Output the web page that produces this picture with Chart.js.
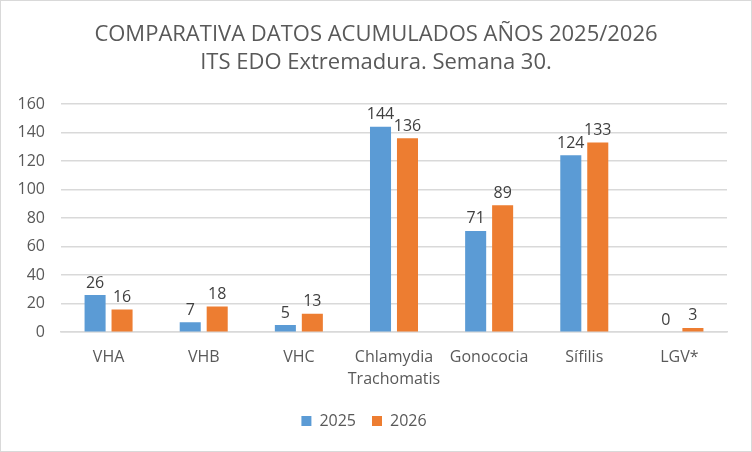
<!DOCTYPE html>
<html>
<head>
<meta charset="utf-8">
<script src="https://cdn.jsdelivr.net/npm/chart.js@4/dist/chart.umd.min.js"></script>
<style>
  html, body { margin: 0; padding: 0; background: #fff; }
  #wrap { width: 750px; height: 450px; border: 1px solid #d9d9d9; position: relative; }
</style>
</head>
<body>
<div id="wrap"><canvas id="chart"></canvas></div>
<script>
// Datos acumulados por enfermedad
const categorias = ['VHA', 'VHB', 'VHC', ['Chlamydia', 'Trachomatis'], 'Gonococia', 'Sífilis', 'LGV*'];
const valores2025 = [26, 7, 5, 144, 71, 124, 0];
const valores2026 = [16, 18, 13, 136, 89, 133, 3];
const ticksY = [0, 20, 40, 60, 80, 100, 120, 140, 160];
const titulo = ['COMPARATIVA DATOS ACUMULADOS AÑOS 2025/2026', 'ITS EDO Extremadura. Semana 30.'];

const colores = { a2025: '#5B9BD5', a2026: '#ED7D31' };
const fuente = '"Open Sans", "Noto Sans", sans-serif';

// Etiquetas de valor encima de cada barra
const etiquetasPlugin = {
  id: 'etiquetas',
  afterDatasetsDraw(chart) {
    const ctx = chart.ctx;
    ctx.save();
    ctx.fillStyle = '#404040';
    ctx.font = '16px ' + fuente;
    ctx.textAlign = 'center';
    ctx.textBaseline = 'bottom';
    chart.data.datasets.forEach((ds, i) => {
      chart.getDatasetMeta(i).data.forEach((bar, j) => {
        ctx.fillText(String(ds.data[j]), bar.x, bar.y - 4);
      });
    });
    ctx.restore();
  }
};

// Título centrado sobre todo el lienzo
const tituloPlugin = {
  id: 'titulo',
  afterDraw(chart) {
    const ctx = chart.ctx;
    ctx.save();
    ctx.fillStyle = '#595959';
    ctx.font = '22px ' + fuente;
    ctx.textAlign = 'center';
    ctx.textBaseline = 'middle';
    titulo.forEach((linea, i) => {
      ctx.fillText(linea, chart.width / 2, 34 + i * 28);
    });
    ctx.restore();
  }
};

new Chart(document.getElementById('chart'), {
  type: 'bar',
  data: {
    labels: categorias,
    datasets: [
      { label: '2025', data: valores2025, backgroundColor: colores.a2025 },
      { label: '2026', data: valores2026, backgroundColor: colores.a2026 }
    ]
  },
  options: {
    responsive: true,
    maintainAspectRatio: false,
    animation: false,
    datasets: { bar: { categoryPercentage: 0.567, barPercentage: 0.78 } },
    layout: { padding: { left: 0, right: 24, top: 103, bottom: 12 } },
    plugins: {
      title: { display: false },
      legend: {
        position: 'bottom',
        labels: {
          color: '#595959',
          font: { family: fuente, size: 16 },
          boxWidth: 10,
          boxHeight: 10,
          padding: 16
        }
      },
      tooltip: { enabled: false }
    },
    scales: {
      y: {
        min: 0,
        max: 160,
        afterBuildTicks: (axis) => { axis.ticks = ticksY.map(v => ({ value: v })); },
        afterFit: (axis) => { axis.width = 60; },
        ticks: { color: '#595959', font: { family: fuente, size: 16 }, padding: 16 },
        grid: { color: '#d9d9d9', lineWidth: 1.5, drawTicks: false },
        border: { display: false }
      },
      x: {
        ticks: { color: '#595959', font: { family: fuente, size: 16, lineHeight: 1.4 }, padding: 6, maxRotation: 0, autoSkip: false },
        grid: { display: false },
        border: { color: '#d9d9d9', width: 1.5 }
      }
    }
  },
  plugins: [etiquetasPlugin, tituloPlugin]
});
</script>
</body>
</html>
